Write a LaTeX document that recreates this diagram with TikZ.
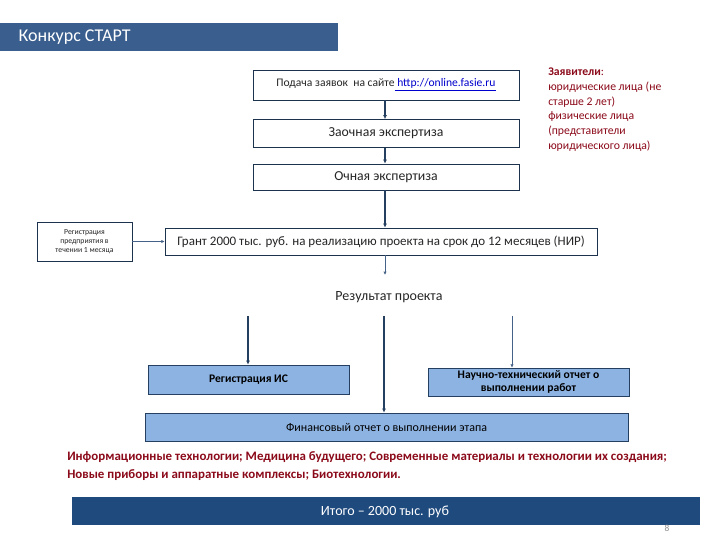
\documentclass[tikz,border=0pt]{standalone}
\usepackage{fontspec}
\setmainfont{Carlito}
\usetikzlibrary{arrows.meta}
\definecolor{hdr}{HTML}{3A5F8F}
\definecolor{ftr}{HTML}{1F4A7E}
\definecolor{navy}{HTML}{243F60}
\definecolor{lblue}{HTML}{8DB3E2}
\definecolor{dred}{HTML}{8B0A1A}
\definecolor{linkc}{HTML}{0000CC}
\tikzset{
  wbox/.style={draw=navy!80!black, line width=0.6pt, fill=white, inner sep=0pt, align=center, text=black!85},
  bbox/.style={draw=navy, line width=0.6pt, fill=lblue, inner sep=0pt, align=center, text=black, font=\fontsize{8.7}{10}\selectfont\bfseries},
  conn/.style={draw=navy, line width=1.1pt, -{Latex[length=3pt,width=3pt]}},
  thin/.style={draw=navy!70!lblue, line width=0.6pt, -{Latex[length=2.5pt,width=2.5pt]}}
}
\begin{document}
\begin{tikzpicture}[x=0.75pt,y=-0.75pt]
\useasboundingbox (0,0) rectangle (720,540);
% header
\fill[hdr] (0,23) rectangle (338,51);
\node[anchor=west, text=white, font=\fontsize{13.5}{15}\selectfont] (hd) at (14,37) {Конкурс СТАРТ};
% top chain
\node[wbox, minimum width=199.5pt, minimum height=22.5pt, font=\fontsize{8.7}{10}\selectfont] (b1) at (386,85) {Подача заявок\ \ на сайте\textcolor{linkc}{\underline{ http://online.fasie.ru}}};
\node[wbox, minimum width=199.5pt, minimum height=21pt, font=\fontsize{10.3}{12}\selectfont] (b2) at (386,133.5) {Заочная экспертиза};
\node[wbox, minimum width=199.5pt, minimum height=19.5pt, font=\fontsize{10.3}{12}\selectfont] (b3) at (386,177) {Очная экспертиза};
% applicants
\node[anchor=north west, align=left, text=dred, font=\fontsize{8.8}{11}\selectfont, inner sep=0pt] (app) at (548,68) {\textbf{Заявители}:\\юридические лица (не\\старше 2 лет)\\физические лица\\(представители\\юридического лица)};
% grant
\node[wbox, minimum width=324pt, minimum height=20.25pt, font=\fontsize{9.75}{11}\selectfont] (gr) at (381,241.5) {Грант 2000 тыс. руб. на реализацию проекта на срок до 12 месяцев (НИР)};
\node[wbox, minimum width=71.25pt, minimum height=29.25pt, font=\fontsize{5.8}{6.8}\selectfont] (reg) at (84.5,241.5) {Регистрация\\предприятия в\\течении 1 месяца};
\node[font=\fontsize{10.5}{12}\selectfont, text=black!85] (res) at (389,297) {Результат проекта};
% bottom boxes
\node[bbox, minimum width=150.75pt, minimum height=21.75pt] (ris) at (248.5,379.5) {Регистрация ИС};
\node[bbox, minimum width=150.75pt, minimum height=21pt] (nt) at (528.5,382) {Научно-технический отчет о\\выполнении работ};
\node[bbox, minimum width=362.25pt, minimum height=21pt, font=\fontsize{9}{10}\selectfont] (fin) at (386.5,427) {Финансовый отчет о выполнении этапа};
% red text
\node[anchor=north west, align=left, text=dred, font=\fontsize{9.7}{13.5}\selectfont\bfseries, inner sep=0pt] (dir) at (67,451) {Информационные технологии; Медицина будущего; Современные материалы и технологии их создания;\\Новые приборы и аппаратные комплексы; Биотехнологии.};
% footer
\fill[ftr] (72,497) rectangle (700,525);
\node[text=white, font=\fontsize{10.5}{12}\selectfont] (ft) at (385,512) {Итого – 2000 тыс. руб};
\node[text=black!45, font=\fontsize{7}{8}\selectfont] (pg) at (667,528) {8};
% coordinates
\coordinate (c1) at (248,316);
\coordinate (c2) at (384,316);
\coordinate (c3) at (512,316);
\coordinate (r0) at (385,275);
% connectors
\draw[conn] (b1.south -| 385,0) -- (b2.north -| 385,0);
\draw[conn] (b2.south -| 385,0) -- (b3.north -| 385,0);
\draw[conn] (b3.south -| 385,0) -- (gr.north -| 385,0);
\draw[thin] (reg.east) -- (gr.west);
\draw[thin] (gr.south -| 385,0) -- (r0);
\draw[conn] (c1) -- (ris.north -| c1);
\draw[conn] (c2) -- (fin.north -| c2);
\draw[thin] (c3) -- (nt.north -| c3);
\end{tikzpicture}
\end{document}
